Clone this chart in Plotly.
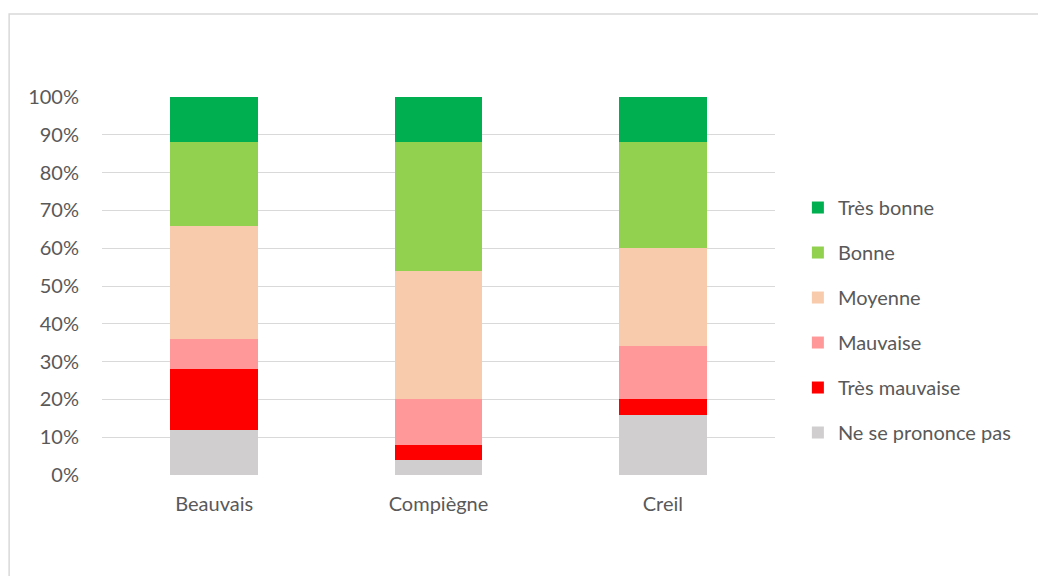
import plotly.graph_objects as go

villes = ["Beauvais", "Compiègne", "Creil"]
ne_se_prononce_pas = [12, 4, 16]
tres_mauvaise = [16, 4, 4]
mauvaise = [8, 12, 14]
moyenne = [30, 34, 26]
bonne = [22, 34, 28]
tres_bonne = [12, 12, 12]

series = [
    ("Ne se prononce pas", ne_se_prononce_pas, "#d0cece"),
    ("Très mauvaise", tres_mauvaise, "#ff0000"),
    ("Mauvaise", mauvaise, "#ff9999"),
    ("Moyenne", moyenne, "#f8cbad"),
    ("Bonne", bonne, "#92d050"),
    ("Très bonne", tres_bonne, "#00b050"),
]

fig = go.Figure()
n = len(series)
for i, (name, vals, color) in enumerate(series):
    fig.add_trace(go.Bar(
        x=villes, y=[v / 100 for v in vals], name=name, legendgroup=name,
        legendrank=n - i,
        marker=dict(color=color, line=dict(width=0)), width=0.39,
    ))

font = "Lato, 'Open Sans', sans-serif"
fig.update_layout(
    barmode="stack",
    width=1030, height=568,
    margin=dict(l=94, r=263, t=89, b=101),
    paper_bgcolor="white", plot_bgcolor="white",
    font=dict(family=font, size=20, color="#595959"),
    yaxis=dict(range=[0, 1], tickformat=".0%", dtick=0.1, gridcolor="#d9d9d9",
               gridwidth=1, zeroline=False, showline=False, ticks="",
               ticklabelstandoff=22, fixedrange=True),
    xaxis=dict(showline=False, ticks="", ticklabelstandoff=15, showgrid=False),
    legend=dict(x=1.034, xanchor="left", y=0.41, yanchor="middle",
                traceorder="grouped", tracegroupgap=16,
                font=dict(size=20, color="#595959")),
    showlegend=True,
    shapes=[dict(type="rect", xref="paper", yref="paper",
                 x0=-0.138, x1=1.6, y0=-0.6, y1=1.2196,
                 line=dict(color="#d9d9d9", width=1.5), fillcolor="rgba(0,0,0,0)",
                 layer="below")],
)
fig.write_html("out.html")
